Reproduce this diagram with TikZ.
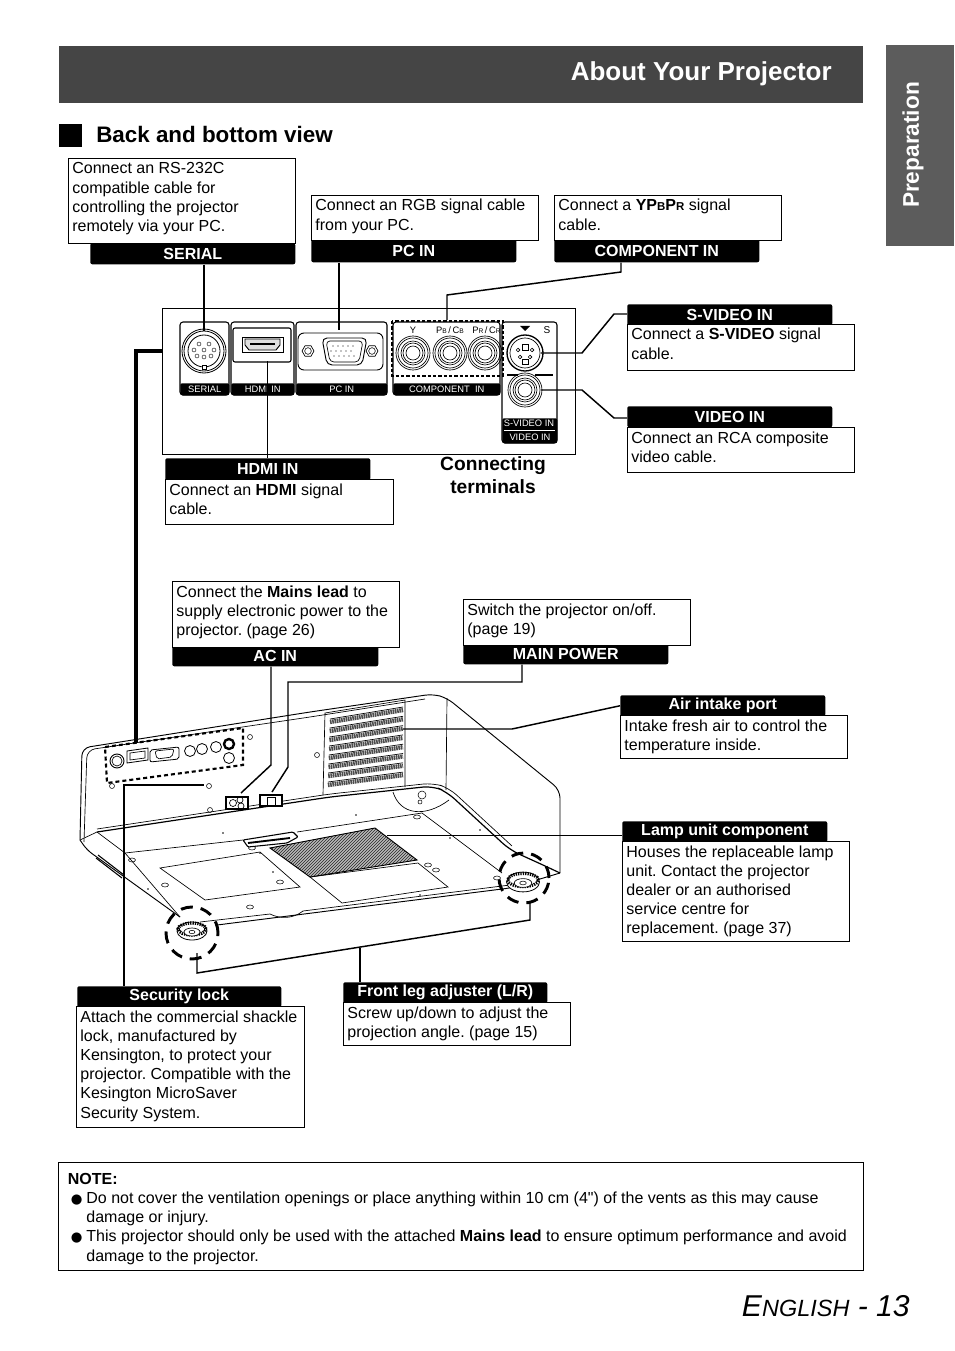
\documentclass[tikz,border=0pt]{standalone}
\usepackage{fontspec}
\setmainfont{Liberation Sans}
\newfontfamily\symfont{DejaVu Sans}
\newfontfamily\plainfont{Liberation Sans}
\usetikzlibrary{positioning,calc,shapes.geometric}
\definecolor{bandGray}{HTML}{454545}
\definecolor{tabGray}{HTML}{5C5C5C}
\newdimen\pxu \pxu=0.75pt
% text block of a caption: width, height (pixels), text
\newcommand{\captext}[3]{\parbox[t][#2\pxu][t]{#1\pxu}{\fontsize{12}{14.4}\selectfont\raggedright\frenchspacing\rule{0pt}{10.2pt}#3}}
\newcommand{\sub}[1]{{\fontsize{8.6}{10}\selectfont #1}}

\begin{document}
\begin{tikzpicture}[
    x=0.75pt, y=-0.75pt,
    descbox/.style={draw, fill=white, line width=0.6pt, anchor=north west, inner xsep=4\pxu, inner ysep=2\pxu},
    tabhead/.style={fill=black, text=white, rounded corners=2\pxu, anchor=north west, minimum width=205\pxu, minimum height=21\pxu, inner sep=0pt, font=\fontsize{12}{14}\selectfont\bfseries},
    wire/.style={line width=1.1pt},
    thinwire/.style={line width=0.7pt},
    body/.style={line width=0.5pt},
    termblock/.style={draw, line width=0.8pt, rounded corners=3\pxu},
    termstrip/.style={fill=black, text=white, rounded corners=2\pxu, anchor=north west, minimum height=12\pxu, inner sep=0pt, font=\fontsize{7}{8}\selectfont},
    termlabel/.style={inner sep=0pt, font=\fontsize{7}{8}\selectfont},
    marker/.style={line width=2.2pt, dash pattern=on 12\pxu off 8\pxu},
]
\useasboundingbox (0,0) rectangle (954,1351);

% ===== PAGE FURNITURE =====
\node[fill=bandGray, anchor=north west, minimum width=804\pxu, minimum height=57\pxu, inner sep=0pt] (band) at (59,46) {};
\node[text=white, font=\fontsize{19.5}{24}\selectfont\bfseries, anchor=east, inner sep=0pt] (title) at (832,74) {About Your Projector};
\node[fill=tabGray, anchor=north west, minimum width=68\pxu, minimum height=201\pxu, inner sep=0pt] (sidetab) at (886,45) {};
\node[text=white, font=\fontsize{17}{20}\selectfont\bfseries, rotate=90] (sidelabel) at (913,145) {Preparation};
\node[fill=black, anchor=north west, minimum size=23\pxu, inner sep=0pt] (headmark) at (59,124) {};
\node[font=\fontsize{16.8}{21}\selectfont\bfseries, anchor=west, inner sep=0pt] (heading) at (96,134) {Back and bottom view};
\node[font=\fontsize{22.6}{26}\selectfont\itshape, anchor=base east, inner sep=0pt] (pagenum) at (910,1316)
    {E{\fontsize{17.6}{20}\selectfont NGLISH} - 13};

% ===== TERMINAL PANEL =====
\node[draw, line width=1.1pt, anchor=north west, minimum width=413\pxu, minimum height=146\pxu, inner sep=0pt] (termpanel) at (162,308) {};

% blocks
\draw[termblock] (180,322) rectangle (229,395);
\draw[termblock] (231,322) rectangle (294,395);
\draw[termblock] (296,322) rectangle (387,395);
\draw[termblock] (393,322) rectangle (500,395);
\draw[termblock] (502,322) rectangle (557,443);
\node[termstrip, minimum width=49\pxu] (serialstrip) at (180,383) {SERIAL};
\node[termstrip, minimum width=63\pxu] (hdmistrip) at (231,383) {HDMI IN};
\node[termstrip, minimum width=91\pxu] (pcstrip) at (296,383) {PC IN};
\node[termstrip, minimum width=107\pxu] (compstrip) at (393,383) {COMPONENT\ \ IN};
\node[termstrip, minimum width=55\pxu, minimum height=25\pxu] (avstrip) at (502,418) {};
\node[termlabel, text=white] (svlabel) at (529,423) {S-VIDEO IN};
\node[termlabel, text=white] (vidlabel) at (530,437) {VIDEO IN};
\draw[white, line width=0.5pt] (504,430) -- (555,430);

% serial socket
\foreach \r in {22,20,16}{\draw[line width=0.6pt] (204,351) circle[radius=\r*0.75pt];}
\foreach \x/\y in {199/344,209/344,194/350,204/350,214/350,197/356,204/357,211/356}{
    \draw[line width=0.3pt] (\x,\y) circle[radius=1.5pt];}
\draw[line width=0.5pt, fill=white] (202,365) rectangle (206,369);

% hdmi socket
\draw[line width=0.8pt, rounded corners=2\pxu] (233,328) rectangle (291,362);
\draw[line width=0.7pt] (242,337) rectangle (283,352);
\draw[line width=0.7pt, fill=gray!25] (245,339) -- (280,339) -- (280,345) -- (276,350) -- (249,350) -- (245,345) -- cycle;
\fill (250,343) rectangle (275,345);

% vga socket
\draw[line width=0.7pt, rounded corners=6\pxu] (298,333) rectangle (383,370);
\draw[line width=0.7pt, rounded corners=5\pxu] (322,338) -- (367,338) -- (362,365) -- (327,365) -- cycle;
\draw[line width=0.5pt, rounded corners=4\pxu] (326,341) -- (363,341) -- (359,362) -- (330,362) -- cycle;
\foreach \x in {308,372}{
    \node[draw, regular polygon, regular polygon sides=6, minimum size=12\pxu, inner sep=0pt, line width=0.5pt] (hex\x) at (\x,351) {};
    \draw[line width=0.4pt] (\x,351) circle[radius=2.5pt];}
\foreach \x in {333,338,343,348,353}{
    \fill (\x,346) circle[radius=0.55pt];
    \fill (\x+1,356) circle[radius=0.55pt];
    \fill (\x-2,351) circle[radius=0.55pt];}

% rca sockets
\foreach \x in {413,450,485,525}{
    \ifnum\x=525
        \foreach \r in {17,15,12,10,7}{\draw[line width=0.5pt] (\x,390) circle[radius=\r*0.75pt];}
    \else
        \foreach \r in {17,15,12,10,7}{\draw[line width=0.5pt] (\x,353) circle[radius=\r*0.75pt];}
    \fi
}
% s-video socket
\draw[line width=1.0pt] (525,353) circle[radius=18*0.75pt];
\draw[line width=0.5pt] (525,353) circle[radius=15*0.75pt];
\foreach \x/\y in {518/350,532/350,520/357,530/357}{\draw[line width=0.4pt] (\x,\y) circle[radius=1.4pt];}
\draw[line width=0.4pt] (522,344) rectangle (528,350);
\draw[line width=0.4pt] (522,359) rectangle (528,364);
\fill (520,326) -- (530,326) -- (525,331) -- cycle;
\node[termlabel, font=\fontsize{7.5}{8}\selectfont] (slabel) at (547,330) {S};
\draw[line width=0.9pt] (507,375) -- (518,375) (535,375) -- (553,375);

% component labels
\node[termlabel] (ylabel) at (413,330) {Y};
\node[termlabel] (pblabel) at (450,330) {P{\fontsize{5}{6}\selectfont B}\,/\,C{\fontsize{5}{6}\selectfont B}};
\node[termlabel] (prlabel) at (486.5,330) {P{\fontsize{5}{6}\selectfont R}\,/\,C{\fontsize{5}{6}\selectfont R}};

% dashed frame of the component sockets
\draw[line width=1pt, dash pattern=on 2.5pt off 1.5pt] (392,321) rectangle (503,376);
\node[font=\fontsize{14.4}{16}\selectfont\bfseries, align=center, inner sep=0pt] (termtitle) at (493,475) {Connecting\\[1pt]terminals};

% ===== CAPTIONS ABOVE THE PANEL =====
\node[tabhead] (serialhead) at (90,243) {SERIAL};
\node[descbox] (serialbox) at (68,158) {\captext{219}{81}{Connect an RS-232C\\compatible cable for\\controlling the projector\\remotely via your PC.}};
\node[tabhead, minimum height=23\pxu] (pchead) at (311,239) {PC IN};
\node[descbox] (pcbox) at (311,195) {\captext{219}{41}{Connect an RGB signal cable\\from your PC.}};
\node[tabhead, minimum height=23\pxu] (comphead) at (554,239) {COMPONENT IN};
\node[descbox] (compbox) at (554,195) {\captext{219}{41}{Connect a \textbf{YP\sub{B}P\sub{R}} signal\\cable.}};

% ===== CAPTIONS BESIDE AND BELOW THE PANEL =====
\node[tabhead] (svideohead) at (627,304) {S-VIDEO IN};
\node[descbox] (svideobox) at (627,324) {\captext{219}{42}{Connect a \textbf{S-VIDEO} signal\\cable.}};
\node[tabhead] (videohead) at (627,406) {VIDEO IN};
\node[descbox] (videobox) at (627,427) {\captext{219}{41}{Connect an RCA composite\\video cable.}};
\node[tabhead, minimum height=22\pxu] (hdmihead) at (165,458) {HDMI IN};
\node[descbox] (hdmibox) at (165,479) {\captext{220}{41}{Connect an \textbf{HDMI} signal\\cable.}};

% ===== CAPTIONS ABOVE THE PROJECTOR =====
\node[tabhead, minimum width=206\pxu] (achead) at (172,645) {AC IN};
\node[descbox] (acbox) at (172,581) {\captext{219}{62}{Connect the \textbf{Mains lead} to\\supply electronic power to the\\projector. (page 26)}};
\node[tabhead] (mainhead) at (463,643) {MAIN POWER};
\node[descbox] (mainbox) at (463,599) {\captext{219}{42}{Switch the projector on/off.\\(page 19)}};
\node[tabhead] (airhead) at (620,695) {Air intake port};
\node[descbox] (airbox) at (620,715) {\captext{219}{39}{Intake fresh air to control the\\temperature inside.}};
\node[tabhead] (lamphead) at (622,821) {Lamp unit component};
\node[descbox] (lampbox) at (622,841) {\captext{219}{96}{Houses the replaceable lamp\\unit. Contact the projector\\dealer or an authorised\\service centre for\\replacement. (page 37)}};
\node[tabhead, minimum width=204\pxu] (lockhead) at (77,986) {Security lock};
\node[descbox] (lockbox) at (76,1006) {\captext{220}{117}{Attach the commercial shackle\\lock, manufactured by\\Kensington, to protect your\\projector. Compatible with the\\Kesington MicroSaver\\Security System.}};
\node[tabhead, minimum width=204\pxu] (leghead) at (343,982) {Front leg adjuster (L/R)};
\node[descbox] (legbox) at (343,1002) {\captext{219}{39}{Screw up/down to adjust the\\projection angle. (page 15)}};

% ===== PROJECTOR =====
% outer shell
\draw[line width=0.7pt, rounded corners=8\pxu] (80,840) -- (82,748) -- (310,712) -- (433,694) -- (447,698) -- (560,790) -- (560,873);
\draw[body, rounded corners=8\pxu] (84,842) -- (87,750) -- (310,717) -- (425,699);
\draw[line width=0.7pt, rounded corners=6\pxu] (80,840) -- (87,850) -- (180,917);
\draw[line width=0.7pt, rounded corners=4\pxu] (217,925) -- (510,888) -- (560,873);
\draw[line width=0.9pt, rounded corners=10\pxu] (97,832) -- (330,797) -- (433,786) -- (447,792) -- (510,850) -- (543,865) -- (560,873);
\draw[body, rounded corners=10\pxu] (97,829) -- (330,794) -- (433,783) -- (449,788) -- (512,846);
\draw[body] (97,832) -- (80,840);
\draw[body] (447,698) -- (446,790);
\draw[line width=0.8pt] (98,855) -- (124,875) (96,858) -- (122,878);

% rear panel
\draw[body] (323,795) -- (325,713) -- (405,700) -- (405,787);
\draw[line width=1.6pt, dash pattern=on 4\pxu off 3\pxu] (105,747) -- (243,728) -- (243,765) -- (107,783) -- cycle;
\draw[line width=0.7pt] (117,761) circle[radius=7\pxu];
\draw[line width=0.5pt] (117,761) circle[radius=5\pxu];
\draw[line width=0.6pt] (127,751) -- (148,748) -- (148,760) -- (127,763) -- cycle;
\draw[line width=0.5pt] (130,753) -- (145,751) -- (145,758) -- (130,760) -- cycle;
\draw[line width=0.6pt, rounded corners=2\pxu] (150,750) -- (179,747) -- (179,759) -- (150,762) -- cycle;
\draw[line width=0.5pt, rounded corners=2\pxu] (155,751) -- (174,749) -- (172,757) -- (157,759) -- cycle;
\foreach \x/\y in {190/751,202/749,216/747,229/758}{
    \draw[line width=0.6pt] (\x,\y) circle[radius=5.5\pxu];}
\draw[line width=1.8pt] (229,744) circle[radius=5\pxu];
\foreach \x/\y in {112/786,250/737,317/755,209/786,210/810}{
    \draw[line width=0.4pt] (\x,\y) circle[radius=2.5\pxu];}

% vent rows
\foreach \i in {0,...,7}{
    \pgfmathsetmacro{\yl}{722+9*\i}
    \pgfmathsetmacro{\yr}{710+9.3*\i}
    \pgfmathsetmacro{\xl}{330-0.3*\i}
    \draw[line width=4.4\pxu, black!70, dash pattern=on 1.2pt off 0.5pt] (\xl,\yl) -- (403,\yr);
    \draw[line width=0.5pt] (\xl,\yl-3) -- (403,\yr-3);
}

% power sockets
\draw[line width=0.9pt, fill=white] (226,797) rectangle (248,809);
\draw[line width=0.5pt] (233,803) circle[radius=3.5\pxu] (240,800) circle[radius=3\pxu] (241,806) circle[radius=3\pxu];
\draw[line width=0.8pt, fill=white] (260,795) rectangle (282,806);
\draw[line width=0.5pt] (267,797) rectangle (275,805);

% bottom face
\draw[body] (125,853) -- (97,832);
\draw[body] (125,853) -- (243,840);
\draw[body] (160,868) -- (260,852) -- (300,887) -- (205,900) -- cycle;
\draw[body] (310,877) -- (418,863) -- (448,887) -- (342,903) -- cycle;
\draw[body] (125,853) -- (180,917);
\draw[body] (297,832) -- (422,813) -- (502,873);
\draw[body] (200,922) -- (270,914) (303,911) -- (510,885);
\draw[body] (270,914) .. controls (280,919) and (293,919) .. (303,911);
\draw[body] (393,792) .. controls (400,815) and (425,818) .. (449,800);
\foreach \x/\y in {132/860,165/885,252/848,250/907,280/882,417/817,428/865,436/870,497/878}{
    \draw[line width=0.4pt] (\x,\y) ellipse[x radius=3.5\pxu, y radius=2\pxu];}
\foreach \x/\y in {223/833,260/853,273/872,148/889,356/815,450/838,480/830,420/895}{
    \fill (\x,\y) circle[radius=0.7pt];}
\draw[line width=0.4pt] (422,795) circle[radius=4\pxu] (420,802) circle[radius=2\pxu];

% lamp cover and handle
\begin{scope}
    \clip (270,848) -- (375,828) -- (417,860) -- (310,877) -- cycle;
    \fill[gray!55] (260,820) rectangle (420,880);
    \foreach \k in {0,3,...,240}{\draw[line width=0.45pt, gray!30!black] (200+\k,885) -- (260+\k,825);}
\end{scope}
\draw[line width=0.7pt] (270,848) -- (375,828) -- (417,860) -- (310,877) -- cycle;
\draw[line width=0.8pt, fill=white, rounded corners=1\pxu] (243,840) -- (293,832) -- (298,837) -- (287,843) -- (248,847) -- cycle;
\draw[line width=1.4pt] (248,843) -- (290,838);

% feet
\foreach \x/\y/\s in {192/931/1, 523/882/1.1}{
    \draw[line width=0.6pt, fill=white] (\x,\y) ellipse[x radius=15*\s*0.75pt, y radius=9*\s*0.75pt];
    \draw[line width=2.4pt, dash pattern=on 1pt off 0.8pt] (\x,\y-2) ellipse[x radius=14*\s*0.75pt, y radius=6*\s*0.75pt];
    \draw[line width=0.5pt, fill=white] (\x,\y+1) ellipse[x radius=8*\s*0.75pt, y radius=4*\s*0.75pt];
    \draw[line width=0.4pt] (\x,\y+1) ellipse[x radius=3*\s*0.75pt, y radius=1.7*\s*0.75pt];
}

% dashed markers round the feet
\draw[marker] (192,933) circle[radius=26\pxu];
\draw[marker] (524,878) circle[radius=25\pxu];

% ===== CONNECTORS =====
\coordinate (serialport) at (204,331);
\coordinate (pcport) at (339,330);
\coordinate (compport) at (447,320);
\coordinate (compbend) at (447,295);
\coordinate (compout) at (621,272);
\coordinate (svideoport) at (541,353);
\coordinate (svideobend) at (582,353);
\coordinate (svideoout) at (614,314);
\coordinate (videoport) at (541,390);
\coordinate (videobend) at (582,390);
\coordinate (videoout) at (614,418);
\coordinate (hdmiport) at (267,361);
\coordinate (panelport) at (162,351);
\coordinate (rearcorner) at (136,351);
\coordinate (rearport) at (136,743);
\coordinate (accorner) at (271,765);
\coordinate (acport) at (241,793);
\coordinate (maincorner) at (522,682);
\coordinate (mainbend) at (288,682);
\coordinate (mainknee) at (288,767);
\coordinate (mainport) at (272,792);
\coordinate (ventport) at (403,729);
\coordinate (ventbend) at (512,729);
\coordinate (lampport) at (387,835);
\coordinate (lockcorner) at (124,785);
\coordinate (lockport) at (204,785);
\coordinate (footleft) at (197,953);
\coordinate (footleftlow) at (197,973);
\coordinate (footright) at (530,903);
\coordinate (footrightlow) at (530,920);
\coordinate (legjoin) at (360,948);

\draw[wire] (serialhead.south -| serialport) -- (serialport);
\draw[wire] (pchead.south -| pcport) -- (pcport);
\draw[wire] (comphead.south -| compout) -- (compout) -- (compbend) -- (compport);
\draw[wire] (svideohead.west |- svideoout) -- (svideoout) -- (svideobend) -- (svideoport);
\draw[wire] (videohead.west |- videoout) -- (videoout) -- (videobend) -- (videoport);
\draw[thinwire] (hdmihead.north -| hdmiport) -- (hdmiport);
\draw[line width=2.4pt] (panelport) -- (rearcorner) -- (rearport);
\draw[wire] (achead.south -| accorner) -- (accorner) -- (acport);
\draw[wire] (mainhead.south -| maincorner) -- (maincorner) -- (mainbend) -- (mainknee) -- (mainport);
\draw[wire] (airhead.west) -- (ventbend) -- (ventport);
\draw[thinwire] (lamphead.west |- lampport) -- (lampport);
\draw[wire] (lockhead.north -| lockcorner) -- (lockcorner) -- (lockport);
\draw[wire] (footleft) -- (footleftlow) -- (footrightlow) -- (footright);
\draw[wire] (leghead.north -| legjoin) -- (legjoin);

% ===== NOTE =====
\node[descbox, inner xsep=9.5\pxu, inner ysep=8.3\pxu] (notebox) at (58,1162) {\captext{786}{91.5}{\textbf{NOTE:}\\
    \hspace*{3\pxu}\makebox[15.5\pxu][l]{\symfont\fontsize{10}{12}\selectfont ●}Do not cover the ventilation openings or place anything within 10 cm (4{\plainfont "}) of the vents as this may cause\\
    \hspace*{18.5\pxu}damage or injury.\\
    \hspace*{3\pxu}\makebox[15.5\pxu][l]{\symfont\fontsize{10}{12}\selectfont ●}This projector should only be used with the attached \textbf{Mains lead} to ensure optimum performance and avoid\\
    \hspace*{18.5\pxu}damage to the projector.}};
\end{tikzpicture}
\end{document}
